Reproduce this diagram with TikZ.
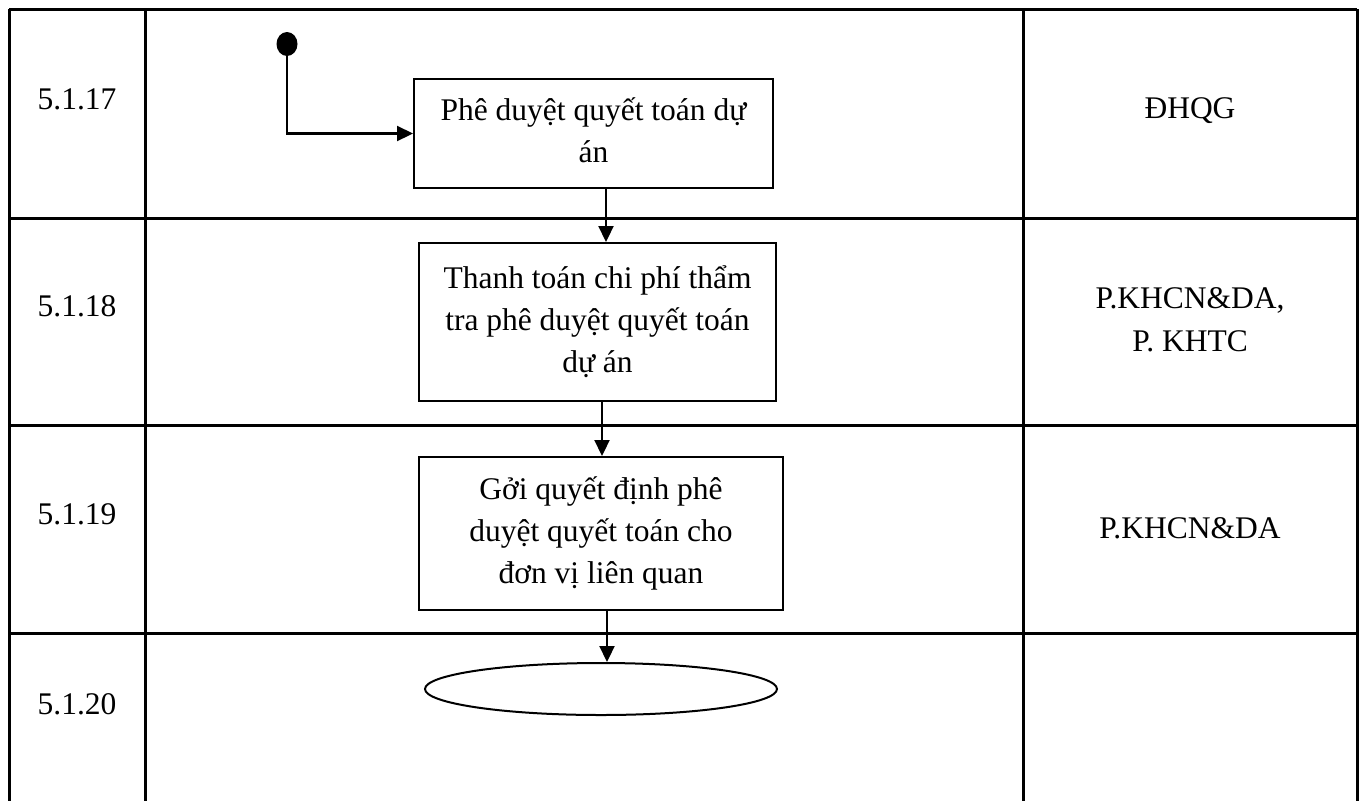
\documentclass[tikz,border=0pt]{standalone}
\usepackage{fontspec}
\setmainfont{Liberation Serif}
\usetikzlibrary{arrows.meta,shapes.geometric}
\begin{document}
\begin{tikzpicture}[x=1pt,y=-1pt,
  grid/.style={line width=3pt},
  lbl/.style={inner sep=0pt,align=center,font=\fontsize{31.5}{43}\selectfont},
  stepbox/.style={draw,line width=2pt,inner sep=0pt,align=center,font=\fontsize{31.5}{42}\selectfont},
  conn/.style={line width=2.2pt,-{Triangle[width=15pt,length=16pt]}}]
\useasboundingbox (0,0) rectangle (1367,801);
% table
\draw[grid] (9,9) -- (1357,9);
\draw[grid] (9,218) -- (1357,218);
\draw[grid] (9,425) -- (1357,425);
\draw[grid] (9,633) -- (1357,633);
\draw[grid] (9,9) -- (9,801);
\draw[grid] (145,9) -- (145,801);
\draw[grid] (1023,9) -- (1023,801);
\draw[grid] (1357,9) -- (1357,801);
% step numbers
\node[lbl] (n17) at (77,99) {5.1.17};
\node[lbl] (n18) at (77,306) {5.1.18};
\node[lbl] (n19) at (77,514) {5.1.19};
\node[lbl] (n20) at (77,704) {5.1.20};
% responsible units
\node[lbl] (r17) at (1190,111) {ĐHQG};
\node[lbl] (r18) at (1190,320) {P.KHCN\&DA,\\P. KHTC};
\node[lbl] (r19) at (1190,528) {P.KHCN\&DA};
% flow
\node[fill,ellipse,minimum width=21pt,minimum height=24pt,inner sep=0pt] (start) at (287,44) {};
\node[stepbox,minimum width=359pt,minimum height=109pt] (b1) at (593.5,133.5) {\raisebox{4pt}{\begin{tabular}{@{}c@{}}Phê duyệt quyết toán dự\\án\end{tabular}}};
\node[stepbox,minimum width=357pt,minimum height=158pt] (b2) at (597.5,322) {Thanh toán chi phí thẩm\\tra phê duyệt quyết toán\\dự án};
\node[stepbox,minimum width=364pt,minimum height=153pt] (b3) at (601,533.5) {Gởi quyết định phê\\duyệt quyết toán cho\\đơn vị liên quan};
\node[draw,ellipse,line width=2pt,minimum width=352pt,minimum height=52pt,inner sep=0pt] (end) at (601,689) {};
\coordinate (a1) at (606,0);
\coordinate (a2) at (602,0);
\coordinate (a3) at (607,0);
\draw[conn] (start.south) |- (b1.west);
\draw[conn] (b1.south -| a1) -- (b2.north -| a1);
\draw[conn] (b2.south -| a2) -- (b3.north -| a2);
\draw[conn] (b3.south -| a3) -- (end.north -| a3);
\end{tikzpicture}
\end{document}
